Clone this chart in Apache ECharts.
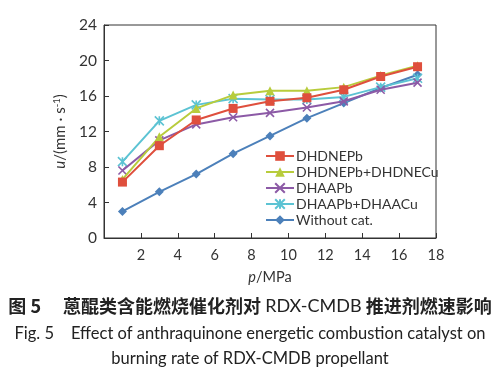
<!DOCTYPE html>
<html><head><meta charset="utf-8">
<script src="https://cdn.jsdelivr.net/npm/echarts@6/dist/echarts.min.js"></script>
<style>html,body{margin:0;padding:0;background:#fff}#c{width:500px;height:387px}</style>
</head><body><div id="c"></div>
<script>
const pressures = [1, 3, 5, 7, 9, 11, 13, 15, 17];
const seriesNames = ['DHDNEPb', 'DHDNEPb+DHDNECu', 'DHAAPb', 'DHAAPb+DHAACu', 'Without cat.'];
const dhdnepb = [6.3, 10.4, 13.3, 14.6, 15.4, 15.8, 16.7, 18.2, 19.3];
const dhdnepbCu = [6.6, 11.4, 14.6, 16.1, 16.6, 16.6, 17.0, 18.3, 19.4];
const dhaapb = [7.6, 11.0, 12.8, 13.6, 14.1, 14.7, 15.4, 16.7, 17.5];
const dhaapbCu = [8.6, 13.2, 15.0, 15.7, 15.6, 15.6, 15.9, 17.0, 18.0];
const withoutCat = [3.0, 5.2, 7.2, 9.5, 11.5, 13.5, 15.2, 16.9, 18.4];
const xTicks = [2, 4, 6, 8, 10, 12, 14, 16, 18];
const yTicks = [0, 4, 8, 12, 16, 20, 24];

const FONT = 'Lato';
const colors = ['#df4f3d', '#b8cc3c', '#8c5aa6', '#5cc3d3', '#4c80ba'];
const symbols = [
  'rect', 'triangle',
  'path://M0,0 L10,10 M10,0 L0,10',
  'path://M0,0 L10,10 M10,0 L0,10 M5,0 L5,10',
  'diamond'
];
const values = [dhdnepb, dhdnepbCu, dhaapb, dhaapbCu, withoutCat];
const sizes = [9, 9, 8, 9, 9];

const series = seriesNames.map((n, i) => ({
  name: n,
  type: 'line',
  data: pressures.map((p, j) => [p, values[i][j]]),
  symbol: symbols[i],
  symbolSize: sizes[i],
  showSymbol: true,
  lineStyle: { color: colors[i], width: 2 },
  itemStyle: { color: colors[i], borderColor: colors[i], borderWidth: (i === 2 || i === 3) ? 1.6 : 0 },
  z: 10 - i
}));

const chart = echarts.init(document.getElementById('c'), null, { renderer: 'canvas' });
chart.setOption({
  animation: false,
  backgroundColor: '#fff',
  textStyle: { fontFamily: FONT },
  grid: { left: 104, right: 64, top: 25, bottom: 149, show: true, borderColor: '#333', borderWidth: 1, backgroundColor: 'transparent' },
  xAxis: {
    type: 'value', min: 0, max: 18, interval: 2,
    axisLine: { show: true, lineStyle: { color: '#333', width: 1 } },
    axisTick: { show: true, inside: true, length: 5, lineStyle: { color: '#333' } },
    axisLabel: { color: '#333', fontSize: 14.5, fontFamily: FONT, margin: 10,
      formatter: v => xTicks.includes(v) ? String(v) : '' },
    splitLine: { show: false },
    name: '{i|p}/MPa', nameLocation: 'middle', nameGap: 32,
    nameTextStyle: { color: '#333', fontSize: 14.5, fontFamily: FONT,
      rich: { i: { fontStyle: 'italic', fontSize: 14.5, fontFamily: FONT, color: '#333' } } }
  },
  yAxis: {
    type: 'value', min: 0, max: 24, interval: 4,
    axisLine: { show: true, lineStyle: { color: '#333', width: 1 } },
    axisTick: { show: true, inside: true, length: 5, lineStyle: { color: '#333' } },
    axisLabel: { color: '#333', fontSize: 15.5, fontFamily: FONT, margin: 7,
      formatter: v => yTicks.includes(v) ? String(v) : '' },
    splitLine: { show: false },
    name: '{i|u}/(mm · s{s|-1})', nameLocation: 'middle', nameRotate: 90, nameGap: 24,
    nameTextStyle: { color: '#333', fontSize: 15, fontFamily: FONT,
      rich: { i: { fontStyle: 'italic', fontSize: 15, fontFamily: FONT, color: '#333' },
              s: { fontSize: 9.5, verticalAlign: 'top', padding: [0, 0, 8, 0], fontFamily: FONT, color: '#333' } } }
  },
  legend: {
    orient: 'vertical', left: 260, top: 144, itemGap: 2, itemWidth: 28, itemHeight: 12,
    textStyle: { fontSize: 14, color: '#333', fontFamily: FONT, padding: [0, 0, 0, -3] },
    data: seriesNames
  },
  series: series,
  graphic: [
    { type: 'text', left: 'center', top: 297, style: {
      text: '{c|图 5　 蒽醌类含能燃烧催化剂对 }{l|RDX-CMDB}{c| 推进剂燃速影响}',
      rich: {
        c: { font: 'bold 18px "Noto Sans CJK SC"', fill: '#222' },
        l: { font: '18px Lato', fill: '#222' }
      } } },
    { type: 'text', left: 'center', top: 325, style: { text: 'Fig. 5    Effect of anthraquinone energetic combustion catalyst on', font: '16.5px Lato', fill: '#222' } },
    { type: 'text', left: 'center', top: 350, style: { text: 'burning rate of RDX-CMDB propellant', font: '16.5px Lato', fill: '#222' } }
  ]
});
</script></body></html>
